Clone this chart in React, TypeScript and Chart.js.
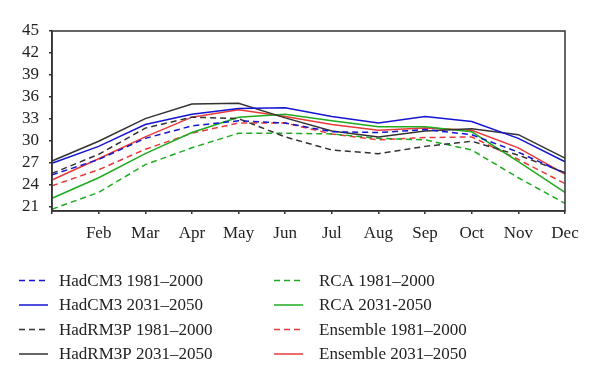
import React, { useEffect, useRef } from "react";
import { Chart, registerables } from "chart.js";

Chart.register(...registerables);

const months = ["Jan", "Feb", "Mar", "Apr", "May", "Jun", "Jul", "Aug", "Sep", "Oct", "Nov", "Dec"];
const yTicks = [21, 24, 27, 30, 33, 36, 39, 42, 45];

const hadcm3Base = [25.3, 27.4, 30.3, 32.0, 32.7, 32.4, 31.2, 31.1, 31.5, 30.8, 28.4, 25.5];
const hadcm3Future = [26.9, 29.2, 32.2, 33.6, 34.4, 34.5, 33.3, 32.4, 33.3, 32.6, 30.3, 27.1];
const hadrm3pBase = [25.5, 28.1, 31.7, 33.2, 33.0, 30.5, 28.7, 28.2, 29.2, 29.9, 28.0, 25.6];
const hadrm3pFuture = [27.2, 29.9, 33.0, 35.0, 35.1, 33.1, 31.3, 30.5, 31.3, 31.6, 30.8, 27.6];
const rcaBase = [20.6, 22.9, 26.7, 29.0, 31.0, 31.0, 30.9, 30.3, 30.1, 28.7, 24.9, 21.4];
const rcaFuture = [22.1, 24.9, 28.2, 31.1, 33.2, 33.6, 32.7, 31.9, 31.9, 31.2, 27.1, 22.9];
const ensembleBase = [23.8, 26.0, 28.8, 31.0, 32.4, 32.4, 30.9, 30.1, 30.4, 30.5, 27.4, 24.1];
const ensembleFuture = [24.6, 27.5, 30.5, 33.2, 34.2, 33.3, 32.2, 31.4, 31.7, 31.4, 29.0, 25.4];

const seriesLabels = [
  "HadCM3 1981–2000",
  "HadCM3 2031–2050",
  "HadRM3P 1981–2000",
  "HadRM3P 2031–2050",
  "RCA 1981–2000",
  "RCA 2031-2050",
  "Ensemble 1981–2000",
  "Ensemble 2031–2050",
];

const BLUE = "#1414d2";
const BLACK = "#333333";
const GREEN = "#1faa1f";
const RED = "#e83a3a";
const FONT = "'Liberation Serif', 'DejaVu Serif', serif";
const DASH = [6, 4];

const frameAndLegend = {
  id: "frameAndLegend",
  afterDraw(chart: any) {
    const { ctx, chartArea } = chart;
    ctx.save();
    ctx.strokeStyle = "#333";
    ctx.lineWidth = 1.5;
    ctx.strokeRect(chartArea.left, chartArea.top, chartArea.right - chartArea.left, chartArea.bottom - chartArea.top);

    const colX = [19, 274];
    const textX = [59, 319];
    const rowY = [280.5, 305, 329.5, 354];
    ctx.font = "17px " + FONT;
    ctx.textBaseline = "middle";
    chart.data.datasets.forEach((ds: any, i: number) => {
      const col = i < 4 ? 0 : 1;
      const row = i % 4;
      const y = rowY[row];
      ctx.beginPath();
      ctx.setLineDash(ds.borderDash || []);
      ctx.strokeStyle = ds.borderColor;
      ctx.lineWidth = 1.5;
      ctx.moveTo(colX[col], y);
      ctx.lineTo(colX[col] + 29, y);
      ctx.stroke();
      ctx.setLineDash([]);
      ctx.fillStyle = "#222";
      ctx.fillText(ds.label, textX[col], y + 1);
    });
    ctx.restore();
  },
};

export default function App() {
  const ref = useRef<HTMLCanvasElement | null>(null);
  useEffect(() => {
    document.body.style.margin = "0";
    if (!ref.current) return;
    const mk = (label: string, data: number[], color: string, dashed: boolean) => ({
      label,
      data,
      borderColor: color,
      backgroundColor: color,
      borderWidth: 1.5,
      borderDash: dashed ? DASH : [],
      pointRadius: 0,
      tension: 0,
      fill: false,
    });
    const chart = new Chart(ref.current, {
      type: "line",
      data: {
        labels: months,
        datasets: [
          mk(seriesLabels[0], hadcm3Base, BLUE, true),
          mk(seriesLabels[1], hadcm3Future, BLUE, false),
          mk(seriesLabels[2], hadrm3pBase, BLACK, true),
          mk(seriesLabels[3], hadrm3pFuture, BLACK, false),
          mk(seriesLabels[4], rcaBase, GREEN, true),
          mk(seriesLabels[5], rcaFuture, GREEN, false),
          mk(seriesLabels[6], ensembleBase, RED, true),
          mk(seriesLabels[7], ensembleFuture, RED, false),
        ],
      },
      options: {
        responsive: false,
        animation: false,
        layout: { padding: { left: 0, right: 35, top: 31, bottom: 134 } },
        plugins: {
          legend: { display: false },
          tooltip: { enabled: false },
        },
        scales: {
          x: {
            type: "category",
            offset: false,
            grid: { drawOnChartArea: false, drawTicks: true, tickLength: 3, color: "#333", lineWidth: 1.5 },
            border: { display: true, color: "#333", width: 1.5 },
            ticks: {
              autoSkip: false,
              maxRotation: 0,
              padding: 9,
              color: "#222",
              font: { family: FONT, size: 17 },
              callback: (_v: any, i: number) => (i === 0 ? "" : months[i]),
            },
            afterFit: (s: any) => {
              s.height = 40;
            },
          },
          y: {
            min: 20.35,
            max: 45,
            grid: { drawOnChartArea: false, drawTicks: true, tickLength: 3, color: "#333", lineWidth: 1.5 },
            border: { display: true, color: "#333", width: 1.5 },
            ticks: {
              autoSkip: false,
              padding: 10,
              color: "#222",
              font: { family: FONT, size: 17 },
            },
            afterBuildTicks: (s: any) => {
              s.ticks = yTicks.map((v) => ({ value: v }));
            },
            afterFit: (s: any) => {
              s.width = 52;
            },
          },
        },
      },
      plugins: [frameAndLegend],
    } as any);
    return () => chart.destroy();
  }, []);
  return <canvas ref={ref} width={600} height={385} style={{ display: "block" }} />;
}
